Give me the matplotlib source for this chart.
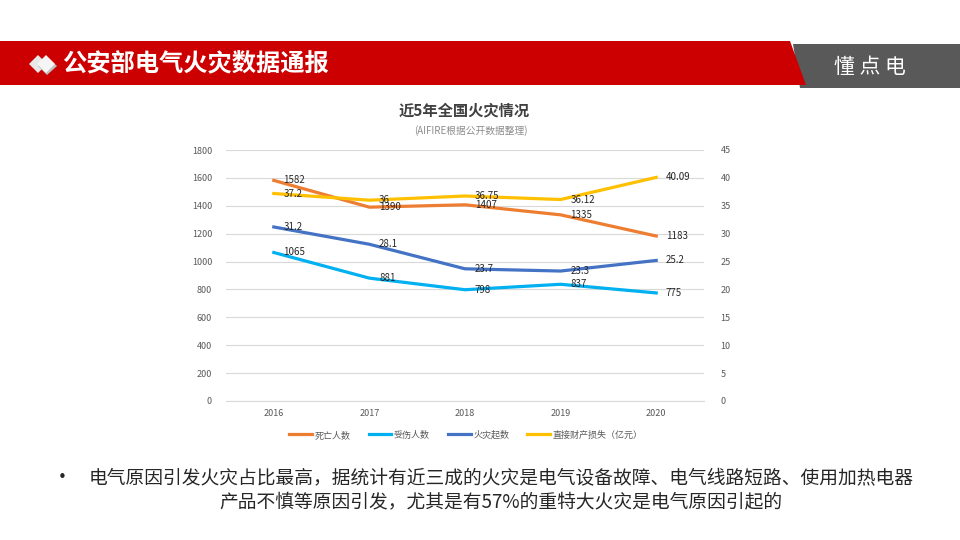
import matplotlib
matplotlib.use("Agg")
import matplotlib.pyplot as plt
from matplotlib.patches import Polygon

plt.rcParams['font.family'] = ['Noto Sans CJK SC', 'DejaVu Sans']

# 数据
years = ['2016', '2017', '2018', '2019', '2020']
deaths = [1582, 1390, 1407, 1335, 1183]          # 死亡人数 (左轴)
injured = [1065, 881, 798, 837, 775]             # 受伤人数 (左轴)
fires = [31.2, 28.1, 23.7, 23.3, 25.2]           # 火灾起数 (右轴)
loss = [37.2, 36, 36.75, 36.12, 40.09]           # 直接财产损失 (右轴)
left_ticks = [0, 200, 400, 600, 800, 1000, 1200, 1400, 1600, 1800]
right_ticks = [0, 5, 10, 15, 20, 25, 30, 35, 40, 45]

fig = plt.figure(figsize=(9.6, 5.4), dpi=100)

# 背景层 (像素坐标)
bg = fig.add_axes([0, 0, 1, 1])
bg.set_xlim(0, 960)
bg.set_ylim(540, 0)
bg.axis('off')

# 顶部红条和灰色块
bg.add_patch(Polygon([(793, 44), (960, 44), (960, 88), (800, 88)], closed=True,
                     facecolor='#595959', edgecolor='none'))
bg.add_patch(Polygon([(0, 41), (790, 41), (806, 85), (0, 85)], closed=True,
                     facecolor='#CC0000', edgecolor='none'))
bg.text(870, 67, '懂 点 电', color='white', fontsize=15, ha='center', va='center')

# 菱形图标
bg.add_patch(Polygon([(29, 64), (38, 55), (47, 64), (38, 73)], closed=True,
                     facecolor='#E8E8E8', edgecolor='none'))
bg.add_patch(Polygon([(38, 66), (47, 57), (57, 66), (47, 75)], closed=True,
                     facecolor='#BFBFBF', edgecolor='none'))
bg.add_patch(Polygon([(37, 64), (46, 55), (55, 64), (46, 73)], closed=True,
                     facecolor='#F5F5F5', edgecolor='none'))
bg.text(62, 64, '公安部电气火灾数据通报', color='white', fontsize=17.5,
        fontweight='bold', ha='left', va='center')

# 图表标题
bg.text(464, 110, '近5年全国火灾情况', color='#404040', fontsize=11,
        fontweight='bold', ha='center', va='center')
bg.text(471, 131, '(AIFIRE根据公开数据整理)', color='#8C8C8C', fontsize=7,
        ha='center', va='center')

# 底部文字
bg.text(62, 478, '•', color='#262626', fontsize=15, ha='center', va='center')
bg.text(501, 478, '电气原因引发火灾占比最高，据统计有近三成的火灾是电气设备故障、电气线路短路、使用加热电器',
        color='#262626', fontsize=13.5, ha='center', va='center')
bg.text(501, 503, '产品不慎等原因引发，尤其是有57%的重特大火灾是电气原因引起的',
        color='#262626', fontsize=13.5, ha='center', va='center')

# 主图
ax = fig.add_axes([226 / 960, (540 - 401) / 540, (704 - 226) / 960, (401 - 150) / 540])
ax2 = ax.twinx()
x = list(range(len(years)))

c_death = '#ED7D31'
c_inj = '#00B0F0'
c_fire = '#4472C4'
c_loss = '#FFC000'

l1, = ax.plot(x, deaths, color=c_death, lw=2.3, label='死亡人数')
l2, = ax.plot(x, injured, color=c_inj, lw=2.3, label='受伤人数')
l3, = ax2.plot(x, fires, color=c_fire, lw=2.3, label='火灾起数')
l4, = ax2.plot(x, loss, color=c_loss, lw=2.3, label='直接财产损失（亿元）')

for a, vals in [(ax, deaths), (ax, injured), (ax2, fires), (ax2, loss)]:
    for xi, v in zip(x, vals):
        a.annotate(f'{v:g}', (xi, v), xytext=(7, 0), textcoords='offset points',
                   fontsize=7, color='#262626', ha='left', va='center')

ax.set_xlim(-0.5, len(years) - 0.5)
ax.set_ylim(0, 1800)
ax2.set_ylim(0, 45)
ax.set_yticks(left_ticks)
ax2.set_yticks(right_ticks)
ax.set_xticks(x)
ax.set_xticklabels(years)
ax.grid(axis='y', color='#D9D9D9', lw=0.8)
ax.set_axisbelow(True)
for a in (ax, ax2):
    for s in a.spines.values():
        s.set_visible(False)
    a.tick_params(length=0, labelsize=6.5, colors='#595959')
ax.spines['bottom'].set_visible(True)
ax.spines['bottom'].set_color('#D9D9D9')
ax.tick_params(axis='y', pad=10)
ax2.tick_params(axis='y', pad=12)
ax.tick_params(axis='x', pad=6)

fig.legend(handles=[l1, l2, l3, l4], loc='center', bbox_to_anchor=(466 / 960, 1 - 435 / 540),
           ncol=4, frameon=False, fontsize=6.5, handlelength=2.5, columnspacing=2,
           handletextpad=0.3, labelcolor='#595959')

fig.savefig('out.png', dpi=100)
